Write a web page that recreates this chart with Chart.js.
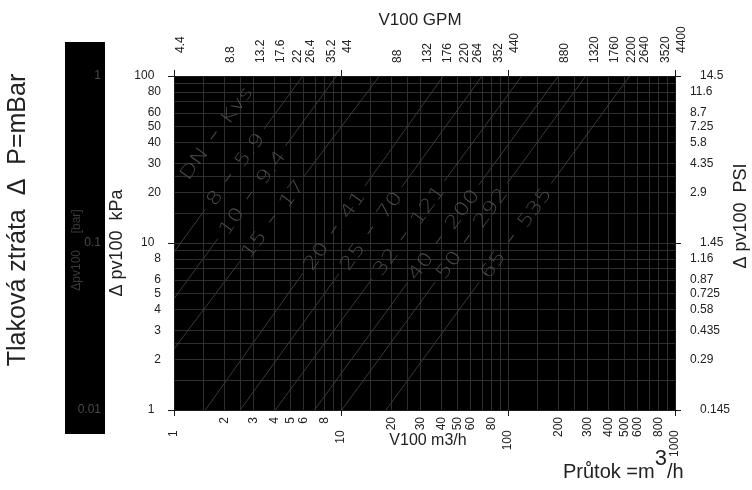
<!DOCTYPE html>
<html>
<head>
<meta charset="utf-8">
<title>Tlaková ztráta – V100</title>
<script src="https://cdn.jsdelivr.net/npm/chart.js@4.4.1/dist/chart.umd.min.js"></script>
<style>
  html, body { margin: 0; padding: 0; background: #fff; }
  #wrap { width: 752px; height: 490px; }
</style>
</head>
<body>
<div id="wrap"><canvas id="chart" width="752" height="490"></canvas></div>
<script>
// ── Data ────────────────────────────────────────────────────────────────
const flowLabels = [1, 2, 3, 4, 5, 6, 8, 10, 20, 30, 40, 50, 60, 80, 100, 200, 300, 400, 500, 600, 800, 1000];
const gpmLabels  = [4.4, 8.8, 13.2, 17.6, 22, 26.4, 35.2, 44, 88, 132, 176, 220, 264, 352, 440, 880, 1320, 1760, 2200, 2640, 3520, 4400];
const kpaLabels  = [1, 2, 3, 4, 5, 6, 8, 10, 20, 30, 40, 50, 60, 80, 100];
const psiLabels  = [0.145, 0.29, 0.435, 0.58, 0.725, 0.87, 1.16, 1.45, 2.9, 4.35, 5.8, 7.25, 8.7, 11.6, 14.5];
const barLabels  = [1, 0.1, 0.01];
const gridSteps  = [1, 1.5, 2, 2.5, 3, 4, 5, 6, 7, 8, 9];

// valve lines: DN - Kvs, each drawn from (Kvs, 100 kPa) down to its end point
const dnSizes     = ['8', '10', '15', '20', '25', '32', '40', '50', '65'];
const kvsValues   = ['5.9', '9.4', '17', '41', '70', '121', '200', '292', '535'];
const lineTopFlow = [5.9, 9.4, 17, 41, 70, 121, 200, 292, 535];
const lineTopDp   = [100, 100, 100, 100, 100, 100, 100, 100, 100];
const lineEndFlow = [1, 1, 1, 1.54, 2.49, 4.04, 6.94, 10.1, 18.6];
const lineEndDp   = [8.83, 4.64, 2.32, 1, 1, 1, 1, 1, 1];
const labelDp     = [24.5, 19.3, 14.0, 12.0, 11.9, 11.0, 10.4, 10.6, 10.6];
const headerAt    = [1.73, 44.2];   // "DN - Kvs" caption (m3/h, kPa)

// ── Style ────────────────────────────────────────────────────────────────
const FONT        = "'Liberation Sans', Arial, sans-serif";
const GRID_COLOR  = '#2e2e2e';
const LINE_COLOR  = '#3a3a3a';
const LABEL_COLOR = '#4a4a4a';
const AXIS_COLOR  = '#1a1a1a';
const TEXT_COLOR  = '#222';

const LABEL_FONT = "200 18px 'DejaVu Sans', sans-serif";
const STRETCH = 1.31;  // label text is drawn wide
const GAP = 33;        // space between DN and Kvs, holds the dash
const DASH = 9;
const PAD = 7;

Chart.defaults.font.family = FONT;
Chart.defaults.font.size = 12;
Chart.defaults.color = TEXT_COLOR;

// ── Helpers ──────────────────────────────────────────────────────────────
function gridValues(lo, hi) {
  const out = [];
  for (let d = lo; d < hi * 0.999; d *= 10) {
    gridSteps.forEach(s => out.push(+(s * d).toPrecision(6)));
  }
  out.push(hi);
  return out;
}

function isDecade(v, base) {
  const l = Math.log10(v / base);
  return Math.abs(l - Math.round(l)) < 1e-6;
}

function findLabel(list, v) {
  return list.find(f => Math.abs(f - v) / f < 1e-6);
}

function tickColorFor(base) {
  return ctx => (ctx.tick && isDecade(ctx.tick.value, base)) ? AXIS_COLOR : 'rgba(0,0,0,0)';
}

function lineGeometry(chart, i) {
  const xs = chart.scales.x, ys = chart.scales.y;
  const x1 = xs.getPixelForValue(lineEndFlow[i]), y1 = ys.getPixelForValue(lineEndDp[i]);
  const x2 = xs.getPixelForValue(lineTopFlow[i]), y2 = ys.getPixelForValue(lineTopDp[i]);
  return { x1, y1, x2, y2, angle: Math.atan2(y2 - y1, x2 - x1) };
}

function labelItems(chart) {
  const xs = chart.scales.x, ys = chart.scales.y;
  const ctx = chart.ctx;
  ctx.save();
  ctx.font = LABEL_FONT;
  const items = dnSizes.map((dn, i) => {
    const g = lineGeometry(chart, i);
    const cy = ys.getPixelForValue(labelDp[i]);
    const t = (cy - g.y1) / (g.y2 - g.y1);
    return { dn, kvs: kvsValues[i], cx: g.x1 + t * (g.x2 - g.x1), cy, angle: g.angle };
  });
  items.unshift({
    dn: 'DN', kvs: 'Kvs',
    cx: xs.getPixelForValue(headerAt[0]), cy: ys.getPixelForValue(headerAt[1]),
    angle: lineGeometry(chart, 0).angle,
  });
  items.forEach(it => {
    it.wDn  = ctx.measureText(it.dn).width * STRETCH;
    it.wKvs = ctx.measureText(it.kvs).width * STRETCH;
  });
  ctx.restore();
  return items;
}

// ── Plugins ──────────────────────────────────────────────────────────────
const plotBackground = {
  id: 'plotBackground',
  beforeDraw(chart) {
    const { ctx, chartArea: a } = chart;
    ctx.save();
    ctx.fillStyle = '#000';
    ctx.fillRect(a.left, a.top, a.width, a.height);
    ctx.restore();
  },
};

// cut the valve lines where their labels sit, then write the labels
const valveLabels = {
  id: 'valveLabels',
  beforeDatasetsDraw(chart) {
    const { ctx, chartArea: a } = chart;
    const items = labelItems(chart);
    ctx.save();
    ctx.beginPath();
    ctx.rect(a.left, a.top, a.width, a.height);
    items.forEach(it => {
      const c = Math.cos(it.angle), s = Math.sin(it.angle);
      const u0 = -(GAP / 2 + it.wDn) - PAD, u1 = GAP / 2 + it.wKvs + PAD, h = 7;
      [[u0, -h], [u1, -h], [u1, h], [u0, h]].forEach(([u, v], k) => {
        const px = it.cx + u * c - v * s, py = it.cy + u * s + v * c;
        if (k) ctx.lineTo(px, py); else ctx.moveTo(px, py);
      });
      ctx.closePath();
    });
    ctx.clip('evenodd');
  },
  afterDatasetsDraw(chart) {
    const ctx = chart.ctx;
    ctx.restore();
    const items = labelItems(chart);
    ctx.save();
    ctx.font = LABEL_FONT;
    ctx.fillStyle = LABEL_COLOR;
    ctx.strokeStyle = LABEL_COLOR;
    ctx.lineWidth = 1;
    items.forEach(it => {
      ctx.save();
      ctx.translate(it.cx, it.cy);
      ctx.rotate(it.angle);
      ctx.beginPath();
      ctx.moveTo(-DASH / 2, 0);
      ctx.lineTo(DASH / 2, 0);
      ctx.stroke();
      ctx.scale(STRETCH, 1);
      ctx.textBaseline = 'alphabetic';
      ctx.textAlign = 'right';
      ctx.fillText(it.dn, -GAP / 2 / STRETCH, 6.5);
      ctx.textAlign = 'left';
      ctx.fillText(it.kvs, GAP / 2 / STRETCH, 6.5);
      ctx.restore();
    });
    ctx.restore();
  },
};

function text(ctx, str, x, y, font, rot, align) {
  ctx.save();
  ctx.translate(x, y);
  if (rot) ctx.rotate(rot);
  ctx.font = font;
  ctx.textAlign = align || 'center';
  ctx.textBaseline = 'middle';
  ctx.fillText(str, 0, 0);
  ctx.restore();
}

const decorations = {
  id: 'decorations',
  afterDraw(chart) {
    const { ctx } = chart;
    const ys = chart.scales.y;
    ctx.save();

    // bar column
    ctx.fillStyle = '#000';
    ctx.fillRect(65, 42, 40, 392);
    ctx.fillStyle = '#4a4a4a';
    ctx.font = `12px ${FONT}`;
    ctx.textAlign = 'right';
    ctx.textBaseline = 'middle';
    barLabels.forEach(v => ctx.fillText(String(v), 101, ys.getPixelForValue(v * 100)));
    ctx.fillStyle = '#3a3a3a';
    text(ctx, 'Δpv100     [bar]', 77, 250, `12px ${FONT}`, -Math.PI / 2);

    // axis titles
    ctx.fillStyle = TEXT_COLOR;
    text(ctx, 'Tlaková ztráta  Δ  P=mBar', 18, 220, `25px ${FONT}`, -Math.PI / 2);
    text(ctx, 'Δ pv100  kPa', 117, 243, `18px ${FONT}`, -Math.PI / 2);
    text(ctx, 'Δ pv100  PSI', 741, 216, `18px ${FONT}`, -Math.PI / 2);
    text(ctx, 'V100 GPM', 420, 20, `17px ${FONT}`);
    text(ctx, 'V100 m3/h', 428, 441, `16px ${FONT}`);

    // Průtok =m3/h with raised 3
    ctx.textAlign = 'left';
    ctx.textBaseline = 'alphabetic';
    ctx.font = `20px ${FONT}`;
    const p1 = 'Průtok =m';
    let x = 563;
    ctx.fillText(p1, x, 478);
    x += ctx.measureText(p1).width;
    ctx.font = `22px ${FONT}`;
    ctx.fillText('3', x, 465);
    x += ctx.measureText('3').width;
    ctx.font = `20px ${FONT}`;
    ctx.fillText('/h', x, 478);

    ctx.restore();
  },
};

// ── Datasets ─────────────────────────────────────────────────────────────
const datasets = dnSizes.map((dn, i) => ({
  label: `DN ${dn} - Kvs ${kvsValues[i]}`,
  data: [
    { x: lineEndFlow[i], y: lineEndDp[i] },
    { x: lineTopFlow[i], y: lineTopDp[i] },
  ],
  borderColor: LINE_COLOR,
  borderWidth: 1,
  pointRadius: 0,
  fill: false,
  tension: 0,
}));

// ── Chart ────────────────────────────────────────────────────────────────
new Chart(document.getElementById('chart'), {
  type: 'line',
  data: { datasets },
  options: {
    responsive: false,
    animation: false,
    layout: { padding: 0 },
    plugins: { legend: { display: false }, tooltip: { enabled: false } },
    scales: {
      x: {
        type: 'logarithmic', position: 'bottom', min: 1, max: 1000,
        afterBuildTicks: s => { s.ticks = gridValues(1, 1000).map(value => ({ value })); },
        afterFit: s => { s.height = 80; },
        ticks: {
          autoSkip: false, minRotation: 90, maxRotation: 90, padding: 1,
          callback: v => {
            const f = findLabel(flowLabels, v);
            if (f === undefined) return '';
            return isDecade(f, 1) ? f + '    ' : String(f);
          },
        },
        grid: { color: GRID_COLOR, tickColor: tickColorFor(1), tickLength: 6 },
        border: { color: AXIS_COLOR },
      },
      x2: {
        type: 'logarithmic', position: 'top', min: 4.4, max: 4400,
        afterBuildTicks: s => { s.ticks = gpmLabels.map(value => ({ value })); },
        afterFit: s => { s.height = 76; },
        ticks: {
          autoSkip: false, minRotation: 90, maxRotation: 90, padding: 7, labelOffset: 21,
          callback: v => {
            const f = findLabel(gpmLabels, v);
            if (f === undefined) return '';
            return isDecade(f, 4.4) ? '   ' + f : String(f);
          },
        },
        grid: { drawOnChartArea: false, tickColor: tickColorFor(4.4), tickLength: 6 },
        border: { color: AXIS_COLOR },
      },
      y: {
        type: 'logarithmic', position: 'left', min: 1, max: 100,
        afterBuildTicks: s => { s.ticks = gridValues(1, 100).map(value => ({ value })); },
        afterFit: s => { s.width = 174; },
        ticks: {
          autoSkip: false, padding: 7,
          callback: v => {
            const f = findLabel(kpaLabels, v);
            if (f === undefined) return '';
            return isDecade(f, 1) ? f + '  ' : String(f);
          },
        },
        grid: { color: GRID_COLOR, tickColor: tickColorFor(1), tickLength: 6 },
        border: { color: AXIS_COLOR },
      },
      y2: {
        type: 'logarithmic', position: 'right', min: 0.145, max: 14.5,
        afterBuildTicks: s => { s.ticks = psiLabels.map(value => ({ value })); },
        afterFit: s => { s.width = 77; },
        ticks: {
          autoSkip: false, padding: 9,
          callback: v => {
            const f = findLabel(psiLabels, v);
            if (f === undefined) return '';
            return isDecade(f, 0.145) ? '   ' + f : String(f);
          },
        },
        grid: { drawOnChartArea: false, tickColor: tickColorFor(0.145), tickLength: 6 },
        border: { color: AXIS_COLOR },
      },
    },
  },
  plugins: [plotBackground, valveLabels, decorations],
});
</script>
</body>
</html>
